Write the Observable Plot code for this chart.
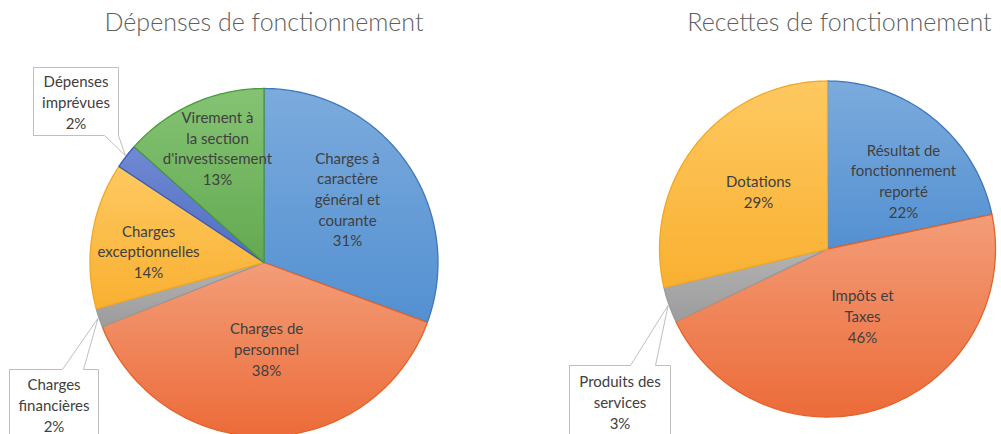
<!DOCTYPE html>
<html><head><meta charset="utf-8">
<script src="https://cdn.jsdelivr.net/npm/d3@7"></script>
<script src="https://cdn.jsdelivr.net/npm/@observablehq/plot@0.6"></script>
<style>body{margin:0;background:#fff;overflow:hidden}</style>
</head><body><div id="chart"></div>
<script>
// ---------- data ----------
const titles = ["Dépenses de fonctionnement", "Recettes de fonctionnement"];

const depensesCategories = ["Charges à caractère général et courante", "Charges de personnel", "Charges financières", "Charges exceptionnelles", "Dépenses imprévues", "Virement à la section d'investissement"];
const depensesNames = ["Charges à\ncaractère\ngénéral et\ncourante", "Charges de\npersonnel", "Charges\nfinancières", "Charges\nexceptionnelles", "Dépenses\nimprévues", "Virement à\nla section\nd'investissement"];
const depensesValues = [30.6, 38.4, 1.7, 13.6, 2.3, 13.4];

const recettesCategories = ["Résultat de fonctionnement reporté", "Impôts et Taxes", "Produits des services", "Dotations"];
const recettesNames = ["Résultat de\nfonctionnement\nreporté", "Impôts et\nTaxes", "Produits des\nservices", "Dotations"];
const recettesValues = [21.7, 46.2, 3.4, 28.7];

// ---------- styles / layout ----------
const W = 1001, H = 434;
const palette = {
  blue:     {top: "#7cabdd", bottom: "#5390d1", stroke: "#3f77ba"},
  orange:   {top: "#f39d78", bottom: "#ec6b39", stroke: "#e5622b"},
  gray:     {top: "#b3b3b3", bottom: "#9c9c9c", stroke: "#9a9a9a"},
  yellow:   {top: "#fec961", bottom: "#f9b031", stroke: "#f1a727"},
  darkblue: {top: "#7089d2", bottom: "#506ec3", stroke: "#3b5aae"},
  green:    {top: "#84c373", bottom: "#64a951", stroke: "#4b9a3b"}
};

const pies = [
  {
    title: titles[0], cx: 263.5, cy: 262, R: 174, titleY: 22,
    categories: depensesCategories, names: depensesNames, values: depensesValues,
    colors: ["blue", "orange", "gray", "yellow", "darkblue", "green"],
    labels: [
      {type: "inside", r: 0.605, da: -2.6},
      {type: "inside", r: 0.494, da: -1},
      {type: "callout", box: [9, 369, 98, 439], side: "top", base: [62, 83]},
      {type: "inside", r: 0.667, da: -3.1},
      {type: "callout", box: [33, 67, 118, 135], side: "bottom", base: [104, 118]},
      {type: "inside", r: 0.713, da: 2.1}
    ]
  },
  {
    title: titles[1], cx: 827, cy: 248.5, R: 168, titleY: 22, titleX: 839,
    categories: recettesCategories, names: recettesNames, values: recettesValues,
    colors: ["blue", "orange", "gray", "yellow"],
    labels: [
      {type: "inside", r: 0.611, da: 8.7},
      {type: "inside", r: 0.447, da: -9.1},
      {type: "callout", box: [569, 365, 670, 437], side: "top", base: [630, 655]},
      {type: "inside", r: 0.536, da: 1.7}
    ]
  }
];

const rad = d => d * Math.PI / 180;
const marks = [];
const texts = [];
const titleRows = [];

pies.forEach((p, pi) => {
  const total = d3.sum(p.values);
  let a0 = 0;
  titleRows.push({x: p.titleX ?? p.cx, y: p.titleY, text: p.title});
  const calloutMarks = [];
  p.values.forEach((v, i) => {
    const span = v / total * 360;
    const a1 = a0 + span;
    const pts = [{x: p.cx, y: p.cy}];
    const n = Math.max(2, Math.ceil(span));
    for (let k = 0; k <= n; k++) {
      const a = rad(a0 + span * k / n);
      pts.push({x: p.cx + p.R * Math.sin(a), y: p.cy - p.R * Math.cos(a)});
    }
    pts.push({x: p.cx, y: p.cy});
    const c = palette[p.colors[i]];
    marks.push(Plot.line(pts, {x: "x", y: "y", fill: `url(#grad-${p.colors[i]})`, stroke: c.stroke, strokeWidth: 1.3, strokeLinejoin: "round"}));

    const mid = (a0 + a1) / 2;
    const L = p.labels[i];
    const label = p.names[i] + "\n" + Math.round(v) + "%";
    if (L.type === "inside") {
      const a = rad(mid + L.da);
      texts.push({x: p.cx + L.r * p.R * Math.sin(a), y: p.cy - L.r * p.R * Math.cos(a), text: label});
    } else {
      const tip = {x: p.cx + (p.R + 1) * Math.sin(rad(mid)), y: p.cy - (p.R + 1) * Math.cos(rad(mid))};
      const [x0, y0, x1, y1] = L.box;
      const [xa, xb] = L.base;
      let poly;
      if (L.side === "bottom") {
        poly = [{x: x0, y: y0}, {x: x1, y: y0}, {x: x1, y: y1}, {x: xb, y: y1}, tip, {x: xa, y: y1}, {x: x0, y: y1}, {x: x0, y: y0}];
      } else {
        poly = [{x: x0, y: y0}, {x: xa, y: y0}, tip, {x: xb, y: y0}, {x: x1, y: y0}, {x: x1, y: y1}, {x: x0, y: y1}, {x: x0, y: y0}];
      }
      calloutMarks.push(Plot.line(poly, {x: "x", y: "y", fill: "white", stroke: "#bfbfbf", strokeWidth: 1, strokeLinejoin: "miter"}));
      texts.push({x: (x0 + x1) / 2, y: (y0 + y1) / 2, text: label});
    }
    a0 = a1;
  });
  marks.push(...calloutMarks);
});

const chart = Plot.plot({
  width: W, height: H,
  margin: 0,
  x: {domain: [0, W], range: [0, W], axis: null},
  y: {domain: [0, H], range: [0, H], axis: null},
  style: {fontFamily: "Lato, 'Open Sans', sans-serif", background: "white", overflow: "hidden"},
  marks: [
    ...marks,
    Plot.text(texts, {x: "x", y: "y", text: "text", fontSize: 15, fill: "#404040", lineHeight: 1.38, textAnchor: "middle"}),
    Plot.text(titleRows, {x: "x", y: "y", text: "text", fontSize: 25, fontWeight: 300, fill: "#5f5f5f", textAnchor: "middle"})
  ]
});

// gradient definitions referenced by the slice fills
const ns = "http://www.w3.org/2000/svg";
const defs = document.createElementNS(ns, "defs");
for (const [name, c] of Object.entries(palette)) {
  const g = document.createElementNS(ns, "linearGradient");
  g.setAttribute("id", "grad-" + name);
  g.setAttribute("x1", "0"); g.setAttribute("y1", "0");
  g.setAttribute("x2", "0"); g.setAttribute("y2", "1");
  [["0", c.top], ["1", c.bottom]].forEach(([o, col]) => {
    const s = document.createElementNS(ns, "stop");
    s.setAttribute("offset", o); s.setAttribute("stop-color", col);
    g.appendChild(s);
  });
  defs.appendChild(g);
}
chart.insertBefore(defs, chart.firstChild);
document.getElementById("chart").appendChild(chart);
</script>
</body></html>
